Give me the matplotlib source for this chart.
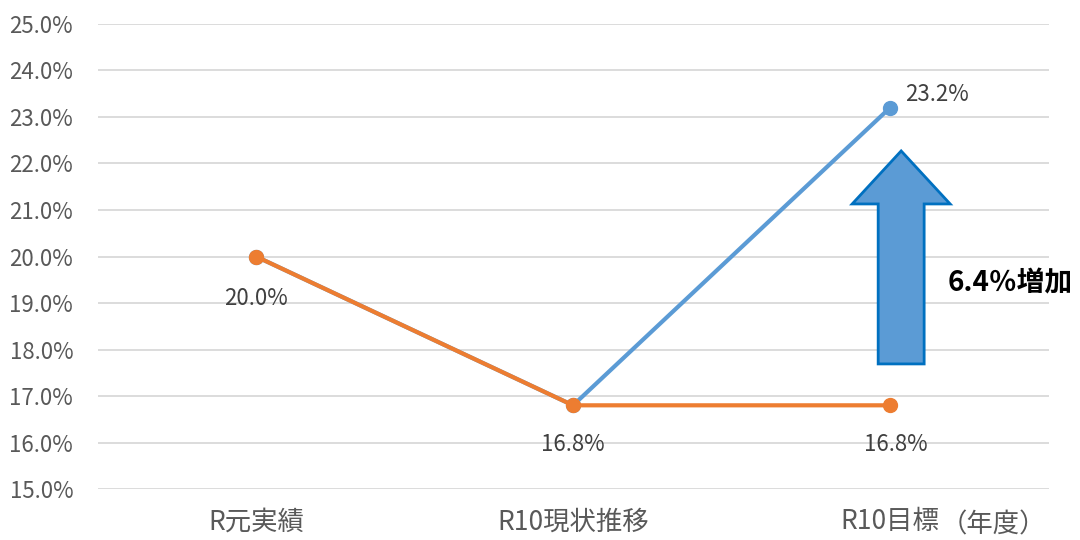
import matplotlib.pyplot as plt
import numpy as np

plt.rcParams['font.family'] = ['Noto Sans CJK JP', 'DejaVu Sans']

categories = ['R元実績', 'R10現状推移', 'R10目標']
target_values = [20.0, 16.8, 23.2]      # blue series (target)
trend_values = [20.0, 16.8, 16.8]       # orange series (current trend)
y_ticks = np.arange(15.0, 25.01, 1.0)


def main():
    fig = plt.figure(figsize=(10.8, 5.4), dpi=100)
    ax = fig.add_axes([0.0903, 0.0944, 0.8806, 0.8612])

    x = np.arange(len(categories))
    blue = '#5B9BD5'
    orange = '#ED7D31'

    ax.plot(x, target_values, color=blue, lw=3, marker='o', ms=10, zorder=3)
    ax.plot(x, trend_values, color=orange, lw=3, marker='o', ms=10, zorder=4)

    ax.set_xlim(-0.5, 2.5)
    ax.set_ylim(15, 25)
    ax.set_yticks(y_ticks)
    ax.set_yticklabels([f'{v:.1f}%' for v in y_ticks])
    ax.set_xticks(x)
    ax.set_xticklabels(categories)
    ax.tick_params(axis='both', length=0, colors='#595959')
    ax.tick_params(axis='y', pad=17.5, labelsize=16)
    ax.tick_params(axis='x', pad=14, labelsize=19)
    ax.grid(axis='y', color='#d9d9d9', lw=1.3)
    ax.set_axisbelow(True)
    for s in ax.spines.values():
        s.set_visible(False)

    # data labels
    lab = dict(fontsize=16, color='#404040', ha='center', va='center')
    ax.annotate(f'{trend_values[0]:.1f}%', (x[0], trend_values[0]),
                xytext=(0, -42), textcoords='offset pixels', **lab)
    ax.annotate(f'{trend_values[1]:.1f}%', (x[1], trend_values[1]),
                xytext=(0, -39), textcoords='offset pixels', **lab)
    ax.annotate(f'{trend_values[2]:.1f}%', (x[2], trend_values[2]),
                xytext=(6, -39), textcoords='offset pixels', **lab)
    ax.annotate(f'{target_values[2]:.1f}%', (x[2], target_values[2]),
                xytext=(47, 13), textcoords='offset pixels', **lab)

    # year suffix right after the last category label
    ax.annotate('（年度）', xy=(x[2], 0), xycoords=('data', 'axes fraction'),
                xytext=(51, -36), textcoords='offset pixels',
                fontsize=19, color='#595959', ha='left', va='center',
                annotation_clip=False)

    # block arrow showing the increase
    ax.arrow(2.035, 17.69, 0, 22.27 - 17.69, width=0.145, head_width=0.309,
             head_length=1.14, length_includes_head=True,
             facecolor=blue, edgecolor='#0070C0', lw=2, zorder=5)
    ax.text(2.38, 19.42, '6.4％増加', fontsize=20, fontweight='bold',
            color='black', ha='center', va='center', clip_on=False)

    fig.savefig('out.png', dpi=100)


if __name__ == '__main__':
    main()
